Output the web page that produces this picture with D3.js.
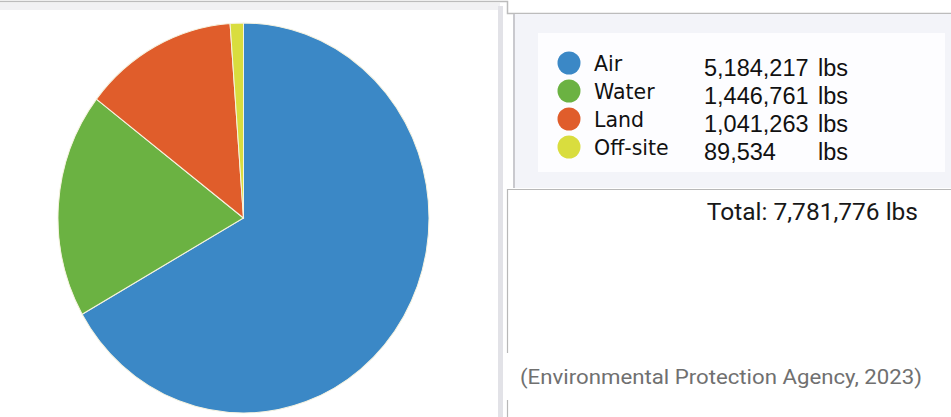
<!DOCTYPE html>
<html>
<head>
<meta charset="utf-8">
<script src="https://cdn.jsdelivr.net/npm/d3@7"></script>
<style>
  html, body { margin: 0; padding: 0; background: #ffffff; }
  svg { display: block; }
</style>
</head>
<body>
<svg id="chart" width="951" height="417"></svg>
<script>
// ---- data ----
const categories = ["Air", "Water", "Land", "Off-site"];
const values = [5184217, 1446761, 1041263, 89534];
const colors = ["#3b88c6", "#6bb242", "#e05d2b", "#d9dd3e"];
const totalLabel = 7781776;
const unitLabel = "lbs";
const sourceText = "(Environmental Protection Agency, 2023)";

const svg = d3.select("#chart");
const W = 951, H = 417;
svg.append("rect").attr("width", W).attr("height", H).attr("fill", "#ffffff");

// ---- panel frames ----
svg.append("rect").attr("x", 0).attr("y", 3).attr("width", 500).attr("height", 7).attr("fill", "#f1f1f3");
svg.append("rect").attr("x", 498).attr("y", 6).attr("width", 5).attr("height", H - 6).attr("fill", "#e2e2e7");
svg.append("path").attr("d", "M0,1.5 H507.5 V13.5 H951")
  .attr("fill", "none").attr("stroke", "#bcbcbc").attr("stroke-width", 1.5);

// legend panel
svg.append("rect").attr("x", 513).attr("y", 14).attr("width", 438).attr("height", 174).attr("fill", "#f3f4f9");
svg.append("line").attr("x1", 514).attr("x2", 514).attr("y1", 14).attr("y2", 188)
  .attr("stroke", "#c9c9ce").attr("stroke-width", 2);
svg.append("rect").attr("x", 538).attr("y", 33).attr("width", 407).attr("height", 139).attr("fill", "#fdfdff");

// lower panel
svg.append("path").attr("d", "M951,189.5 H507.5 V417")
  .attr("fill", "none").attr("stroke", "#b8b8b8").attr("stroke-width", 1.2);

// ---- pie ----
const cx = 243.5, cy = 218, rx = 185.5, ry = 195;
const pie = d3.pie().sort(null).value(d => d.v);
const arc = d3.arc().innerRadius(0).outerRadius(rx);
const data = categories.map((c, i) => ({ c, v: values[i], col: colors[i] }));
const gPie = svg.append("g").attr("transform", `translate(${cx},${cy}) scale(1,${ry / rx})`);
gPie.selectAll("path").data(pie(data)).join("path")
  .attr("d", arc)
  .attr("fill", d => d.data.col)
  .attr("stroke", "#f6f3e0")
  .attr("stroke-width", 1);

// ---- legend ----
const fmt = d3.format(",");
const rowY = d3.scalePoint().domain(categories).range([63, 147]);
const gLeg = svg.append("g");
const rows = gLeg.selectAll("g").data(data).join("g")
  .attr("transform", d => `translate(0,${rowY(d.c)})`);
rows.append("circle").attr("cx", 569).attr("cy", 0).attr("r", 11.5).attr("fill", d => d.col);
rows.append("text").attr("x", 594).attr("y", 7.5)
  .attr("font-family", "DejaVu Sans, Verdana, sans-serif").attr("font-size", 20.5)
  .attr("fill", "#111111").text(d => d.c);
rows.append("text").attr("x", 704).attr("y", 12.5)
  .attr("font-family", "Liberation Sans, Arial, sans-serif").attr("font-size", 23.5)
  .attr("fill", "#111111").text(d => fmt(d.v));
rows.append("text").attr("x", 818).attr("y", 12.5)
  .attr("font-family", "Liberation Sans, Arial, sans-serif").attr("font-size", 23.5)
  .attr("fill", "#111111").text(unitLabel);

// ---- total ----
svg.append("text").attr("x", 918).attr("y", 220).attr("text-anchor", "end")
  .attr("font-family", "Roboto, Arial, sans-serif").attr("font-size", 24.5)
  .attr("fill", "#181818").text(`Total: ${fmt(totalLabel)} ${unitLabel}`);

// ---- source ----
svg.append("rect").attr("x", 503).attr("y", 353).attr("width", 420).attr("height", 47).attr("fill", "#ffffff");
svg.append("text").attr("x", 520).attr("y", 384)
  .attr("font-family", "Roboto, Arial, sans-serif").attr("font-size", 20)
  .attr("textLength", 402).attr("lengthAdjust", "spacingAndGlyphs")
  .attr("fill", "#707070").text(sourceText);
</script>
</body>
</html>
